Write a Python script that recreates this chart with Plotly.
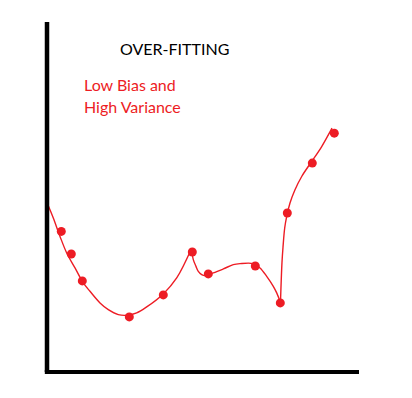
import plotly.graph_objects as go

# Observed data points (data units: origin at the axes corner)
dot_x = [14.3, 24.3, 35.3, 82.3, 116.3, 145.3, 161.3, 208.3, 233.3, 240.3, 265.3, 287.3]
dot_y = [140.8, 118.2, 91.2, 55.2, 77.2, 120.2, 98.2, 106.2, 69.2, 159.2, 209.2, 239.2]

# Over-fitted curve, three smooth pieces (None separates pieces)
curve_x = [1.3, 6.3, 13, 19.7, 28, 36.3, 43, 53, 61.3, 71.3, 79.7, 89.7, 99.7, 116.3, 129.7, 144.3,
           None,
           144.6, 146.3, 149, 151.3, 154.7, 158, 166.3, 176.3, 186.3, 193, 206.3, 213, 219.7, 226.3, 229.7, 233,
           None,
           233.5, 235, 236, 237.7, 239.7, 243, 248, 254.7, 264.7, 274.7, 285]
curve_y = [166.5, 154.2, 135.8, 119.2, 104.2, 89.2, 80.8, 69.2, 62.5, 57.5, 56.8, 59.2, 65.2, 78.2, 94.2, 123.2,
           None,
           123.2, 112.5, 105.8, 100.8, 97.5, 96.5, 99.2, 103.2, 107.5, 108.5, 108.5, 104.2, 95.8, 85.8, 79.2, 70.8,
           None,
           70.5, 110, 125, 144.2, 155.8, 169.2, 182.5, 195.8, 210.8, 225.8, 244.2]

title_text = "OVER-FITTING"
note_lines = ["Low Bias and", "High Variance"]

RED = "#ED1C24"

fig = go.Figure()
fig.add_trace(go.Scatter(x=curve_x, y=curve_y, mode="lines",
                         line=dict(color=RED, width=1.4, shape="spline", smoothing=1.0),
                         connectgaps=False, hoverinfo="skip"))
fig.add_trace(go.Scatter(x=dot_x, y=dot_y, mode="markers",
                         marker=dict(color=RED, size=9, line=dict(width=0))))

fig.add_annotation(x=70.5, y=323.5, xref="x", yref="y", text=title_text, showarrow=False,
                   xanchor="left", yanchor="middle",
                   font=dict(family="Lato", size=16, color="black"))
fig.add_annotation(x=34.5, y=287.5, xref="x", yref="y", text=note_lines[0], showarrow=False,
                   xanchor="left", yanchor="middle",
                   font=dict(family="Lato", size=16, color=RED))
fig.add_annotation(x=34.5, y=265.5, xref="x", yref="y", text=note_lines[1], showarrow=False,
                   xanchor="left", yanchor="middle",
                   font=dict(family="Lato", size=16, color=RED))

# Hand-drawn style axes
fig.add_shape(type="line", xref="paper", yref="paper", x0=0, y0=0, x1=0, y1=1,
              line=dict(color="black", width=4.5))
fig.add_shape(type="line", xref="paper", yref="paper", x0=-0.007, y0=0, x1=1, y1=0,
              line=dict(color="black", width=4))

fig.update_layout(
    width=412, height=398,
    margin=dict(l=47, r=53, t=22, b=25.5),
    paper_bgcolor="white", plot_bgcolor="white",
    showlegend=False,
)
fig.update_xaxes(range=[0, 312], showgrid=False, zeroline=False, showticklabels=False, ticks="",
                 showline=False)
fig.update_yaxes(range=[0, 350.5], showgrid=False, zeroline=False, showticklabels=False, ticks="",
                 showline=False)

fig.write_html("out.html")
